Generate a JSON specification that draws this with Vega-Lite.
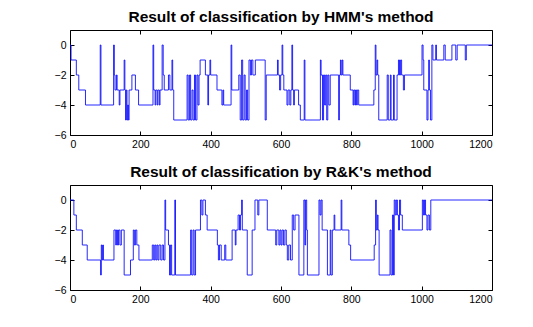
{
  "$schema": "https://vega.github.io/schema/vega-lite/v6.json",
  "padding": {"left": 53, "top": 9, "right": 10, "bottom": 5},
  "background": "white",
  "datasets": {
    "hmm": [
      {"x":0,"y":0},{"x":3,"y":-1},{"x":18,"y":-2},{"x":25,"y":-3},{"x":44,"y":-4},{"x":86,"y":0},{"x":88,"y":-4},{"x":124,"y":0},{"x":126,"y":-2},{"x":128,"y":-3},{"x":132,"y":-2},{"x":134,"y":-3},{"x":140,"y":-4},{"x":142,"y":-3},{"x":154,"y":-1},{"x":156,"y":-3},{"x":158,"y":-5},{"x":160,"y":-3},{"x":162,"y":-5},{"x":164,"y":-4},{"x":166,"y":-5},{"x":168,"y":-3},{"x":176,"y":-2},{"x":186,"y":-3},{"x":195,"y":-4},
      {"x":236,"y":0},{"x":238,"y":-3},{"x":242,"y":-4},{"x":244,"y":-3},{"x":248,"y":-4},{"x":250,"y":-3},{"x":254,"y":-4},{"x":256,"y":-3},{"x":262,"y":0},{"x":265,"y":-2},{"x":268,"y":-3},{"x":280,"y":-2},{"x":284,"y":-3},{"x":290,"y":-1},{"x":292,"y":-3},{"x":295,"y":-5},{"x":333,"y":-2},{"x":336,"y":-5},{"x":340,"y":-2},{"x":343,"y":-5},{"x":347,"y":-3},{"x":350,"y":-5},{"x":354,"y":-2},{"x":357,"y":-5},{"x":361,"y":-2},{"x":364,"y":-4},{"x":367,"y":-2},{"x":370,"y":-1},{"x":385,"y":-2},{"x":392,"y":-4},{"x":394,"y":-2},{"x":398,"y":-1},{"x":400,"y":-2},{"x":418,"y":-3},{"x":432,"y":-4},{"x":435,"y":-3},{"x":437,"y":-4},{"x":458,"y":0},{"x":460,"y":-3},{"x":480,"y":-2},{"x":484,"y":-5},{"x":488,"y":-1},{"x":491,"y":-5},{"x":495,"y":-2},{"x":498,"y":-5},{"x":502,"y":-3},{"x":505,"y":-5},{"x":509,"y":-1},{"x":513,"y":-2},{"x":516,"y":-1},{"x":520,"y":-2},{"x":527,"y":-1},{"x":555,"y":-5},{"x":558,"y":-2},{"x":590,"y":-1},{"x":592,"y":-2},
      {"x":596,"y":-3},{"x":599,"y":-2},{"x":603,"y":0},{"x":605,"y":-2},{"x":608,"y":-3},{"x":617,"y":-4},{"x":620,"y":-3},{"x":625,"y":-4},{"x":628,"y":-3},{"x":631,"y":0},{"x":633,"y":-3},{"x":636,"y":-4},{"x":638,"y":-3},{"x":650,"y":-4},{"x":655,"y":-5},{"x":666,"y":-1},{"x":668,"y":-5},{"x":712,"y":-1},{"x":714,"y":-2},{"x":718,"y":-5},{"x":721,"y":-2},{"x":724,"y":-4},{"x":727,"y":-2},{"x":730,"y":-5},{"x":733,"y":-2},{"x":736,"y":-4},{"x":740,"y":-2},{"x":764,"y":-5},{"x":766,"y":-2},{"x":769,"y":-1},{"x":771,"y":-2},{"x":774,"y":-1},{"x":776,"y":-2},{"x":797,"y":-3},{"x":805,"y":-4},{"x":807,"y":-3},{"x":810,"y":-4},{"x":812,"y":-3},{"x":815,"y":-4},{"x":817,"y":-3},{"x":821,"y":-4},{"x":864,"y":-3},{"x":868,"y":0},{"x":870,"y":-2},{"x":873,"y":-1},{"x":875,"y":-2},{"x":878,"y":-5},{"x":902,"y":-2},{"x":905,"y":-5},{"x":911,"y":-2},{"x":913,"y":-5},{"x":920,"y":-2},{"x":922,"y":-5},{"x":930,"y":-2},{"x":934,"y":-1},{"x":937,"y":-2},{"x":940,"y":-1},{"x":943,"y":-2},{"x":948,"y":-3},{"x":951,"y":-2},
      {"x":1001,"y":0},{"x":1004,"y":-1},{"x":1006,"y":-3},{"x":1015,"y":-5},{"x":1018,"y":-3},{"x":1020,"y":-1},{"x":1022,"y":-3},{"x":1025,"y":-5},{"x":1029,"y":0},{"x":1032,"y":-1},{"x":1040,"y":0},{"x":1042,"y":-1},{"x":1063,"y":0},{"x":1067,"y":-1},{"x":1086,"y":0},{"x":1097,"y":-1},{"x":1101,"y":0},{"x":1124,"y":-1},{"x":1127,"y":0},{"x":1200,"y":0}
    ],
    "rk": [
      {"x":0,"y":0},{"x":11,"y":-1},{"x":18,"y":-2},{"x":35,"y":-3},{"x":49,"y":-4},{"x":87,"y":-5},{"x":89,"y":-3},{"x":91,"y":-4},{"x":93,"y":-3},{"x":95,"y":-4},{"x":125,"y":-2},{"x":130,"y":-3},{"x":132,"y":-2},{"x":135,"y":-3},{"x":138,"y":-2},{"x":142,"y":-3},{"x":146,"y":-2},{"x":154,"y":-5},{"x":172,"y":-4},{"x":180,"y":-2},{"x":183,"y":-3},{"x":186,"y":-2},{"x":190,"y":-3},{"x":196,"y":-4},{"x":234,"y":-3},{"x":238,"y":-4},{"x":241,"y":-3},{"x":244,"y":-4},{"x":247,"y":-3},{"x":250,"y":-4},{"x":253,"y":-3},{"x":258,"y":-4},{"x":262,"y":-3},{"x":266,"y":-4},{"x":270,"y":0},{"x":272,"y":-2},{"x":280,"y":-3},{"x":283,"y":-5},{"x":286,"y":-3},{"x":289,"y":-5},{"x":298,"y":0},{"x":300,"y":-5},{"x":343,"y":-2},{"x":346,"y":-5},{"x":350,"y":-2},{"x":353,"y":-5},{"x":357,"y":-2},{"x":371,"y":0},{"x":375,"y":-1},{"x":378,"y":0},{"x":385,"y":-1},{"x":390,"y":-2},{"x":419,"y":-3},{"x":422,"y":-4},{"x":425,"y":-3},{"x":430,"y":-4},{"x":440,"y":-3},{"x":443,"y":-4},{"x":461,"y":-2},{"x":470,"y":-3},{"x":472,"y":-2},{"x":478,"y":-1},{"x":482,"y":-2},{"x":485,"y":-1},{"x":488,"y":0},{"x":490,"y":-2},{"x":504,"y":-5},{"x":518,"y":-2},{"x":526,"y":0},{"x":534,"y":-1},{"x":537,"y":0},{"x":561,"y":-2},{"x":585,"y":-3},{"x":588,"y":-2},{"x":594,"y":-3},{"x":597,"y":-2},
      {"x":600,"y":-3},{"x":603,"y":-2},{"x":607,"y":-3},{"x":611,"y":-2},{"x":615,"y":-3},{"x":618,"y":-4},{"x":622,"y":-3},{"x":627,"y":-4},{"x":632,"y":-1},{"x":636,"y":-2},{"x":640,"y":-1},{"x":651,"y":-5},{"x":665,"y":0},{"x":668,"y":-3},{"x":670,"y":0},{"x":673,"y":-2},{"x":675,"y":-5},{"x":708,"y":0},{"x":711,"y":-1},{"x":714,"y":0},{"x":717,"y":-2},{"x":732,"y":-5},{"x":740,"y":-2},{"x":742,"y":-5},{"x":746,"y":-2},{"x":751,"y":-1},{"x":753,"y":-2},{"x":771,"y":0},{"x":773,"y":-2},{"x":793,"y":-3},{"x":798,"y":-4},{"x":865,"y":-3},{"x":869,"y":0},{"x":871,"y":-2},{"x":874,"y":-1},{"x":876,"y":-2},{"x":879,"y":-5},{"x":910,"y":-2},{"x":913,"y":-5},{"x":917,"y":-1},{"x":920,"y":-5},{"x":922,"y":0},{"x":925,"y":-1},{"x":928,"y":0},{"x":931,"y":-1},{"x":934,"y":-2},{"x":937,"y":0},{"x":940,"y":-1},{"x":945,"y":-2},{"x":1002,"y":0},{"x":1005,"y":-1},{"x":1008,"y":0},{"x":1011,"y":-1},{"x":1015,"y":-2},{"x":1018,"y":-1},{"x":1022,"y":-2},{"x":1026,"y":0},{"x":1200,"y":0}
    ]
  },
  "config": {
    "view": {"stroke": "black", "strokeWidth": 1},
    "font": "Liberation Sans",
    "title": {"font": "Liberation Sans", "fontSize": 15.5, "fontWeight": "bold", "color": "black", "anchor": "middle", "offset": 4},
    "axis": {"grid": false, "domain": false, "tickColor": "black", "tickSize": -4, "labelColor": "black", "labelFont": "Liberation Sans", "labelFontSize": 10.5, "labelPadding": 8, "title": null, "format": "d"}
  },
  "vconcat": [
    {
      "title": "Result of classification by HMM's method",
      "width": 422, "height": 105,
      "data": {"name": "hmm"},
      "layer": [
        {
          "mark": {"type": "line", "interpolate": "step-after", "color": "#1010ff", "strokeWidth": 0.9},
          "encoding": {
            "x": {"field": "x", "type": "quantitative", "scale": {"domain": [0, 1200], "nice": false}, "axis": {"values": [0,200,400,600,800,1000,1200]}},
            "y": {"field": "y", "type": "quantitative", "scale": {"domain": [-6, 1], "nice": false}, "axis": {"values": [0,-2,-4,-6]}}
          }
        },
        {
          "mark": {"type": "line", "opacity": 0},
          "encoding": {
            "x": {"field": "x", "type": "quantitative", "axis": {"orient": "top", "labels": false, "values": [0,200,400,600,800,1000,1200]}},
            "y": {"field": "y", "type": "quantitative", "axis": {"orient": "right", "labels": false, "values": [0,-2,-4,-6]}}
          }
        }
      ],
      "resolve": {"axis": {"x": "independent", "y": "independent"}}
    },
    {
      "title": "Result of classification by R&K's method",
      "width": 422, "height": 105,
      "data": {"name": "rk"},
      "layer": [
        {
          "mark": {"type": "line", "interpolate": "step-after", "color": "#1010ff", "strokeWidth": 0.9},
          "encoding": {
            "x": {"field": "x", "type": "quantitative", "scale": {"domain": [0, 1200], "nice": false}, "axis": {"values": [0,200,400,600,800,1000,1200]}},
            "y": {"field": "y", "type": "quantitative", "scale": {"domain": [-6, 1], "nice": false}, "axis": {"values": [0,-2,-4,-6]}}
          }
        },
        {
          "mark": {"type": "line", "opacity": 0},
          "encoding": {
            "x": {"field": "x", "type": "quantitative", "axis": {"orient": "top", "labels": false, "values": [0,200,400,600,800,1000,1200]}},
            "y": {"field": "y", "type": "quantitative", "axis": {"orient": "right", "labels": false, "values": [0,-2,-4,-6]}}
          }
        }
      ],
      "resolve": {"axis": {"x": "independent", "y": "independent"}}
    }
  ],
  "spacing": 14
}
